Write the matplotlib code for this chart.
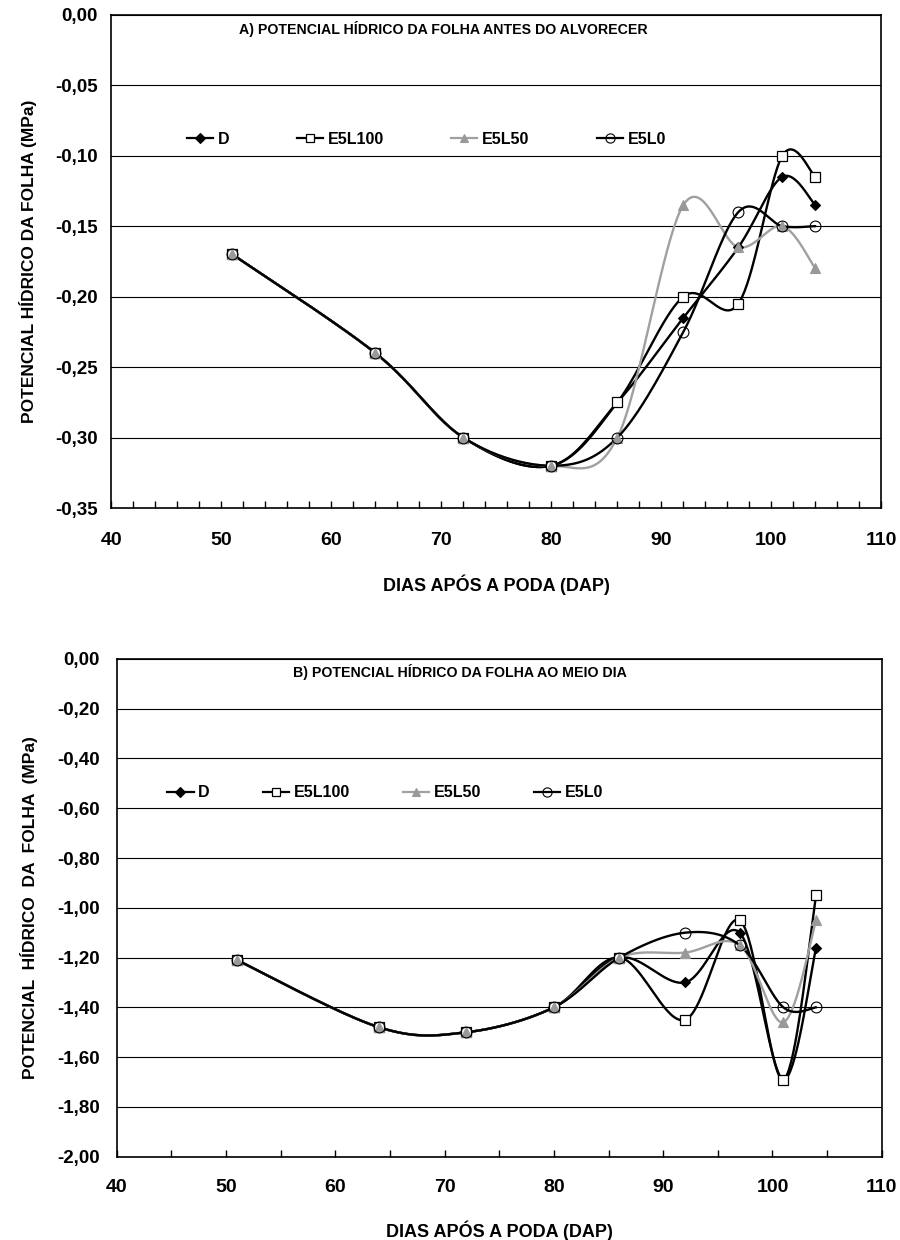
import numpy as np
import matplotlib
matplotlib.use("Agg")
import matplotlib.pyplot as plt
from matplotlib.lines import Line2D
from matplotlib.ticker import FixedLocator, MultipleLocator

plt.rcParams['font.family'] = ['Liberation Sans', 'DejaVu Sans']
plt.rcParams['font.weight'] = 'bold'

# ---------------- data ----------------
dap = [51, 64, 72, 80, 86, 92, 97, 101, 104]
series_names = ["D", "E5L100", "E5L50", "E5L0"]

# A) pre-dawn leaf water potential (MPa)
a_D      = [-0.17, -0.24, -0.30, -0.32, -0.275, -0.215, -0.165, -0.115, -0.135]
a_E5L100 = [-0.17, -0.24, -0.30, -0.32, -0.275, -0.200, -0.205, -0.100, -0.115]
a_E5L50  = [-0.17, -0.24, -0.30, -0.32, -0.300, -0.135, -0.165, -0.150, -0.180]
a_E5L0   = [-0.17, -0.24, -0.30, -0.32, -0.300, -0.225, -0.140, -0.150, -0.150]

# B) midday leaf water potential (MPa)
b_D      = [-1.21, -1.48, -1.50, -1.40, -1.20, -1.30, -1.10, -1.69, -1.16]
b_E5L100 = [-1.21, -1.48, -1.50, -1.40, -1.20, -1.45, -1.05, -1.69, -0.95]
b_E5L50  = [-1.21, -1.48, -1.50, -1.40, -1.20, -1.18, -1.15, -1.46, -1.05]
b_E5L0   = [-1.21, -1.48, -1.50, -1.40, -1.20, -1.10, -1.15, -1.40, -1.40]

x_ticks = [40, 50, 60, 70, 80, 90, 100, 110]
x_tick_labels = ["40", "50", "60", "70", "80", "90", "100", "110"]
a_y_ticks = [0.0, -0.05, -0.10, -0.15, -0.20, -0.25, -0.30, -0.35]
a_y_tick_labels = ["0,00", "-0,05", "-0,10", "-0,15", "-0,20", "-0,25", "-0,30", "-0,35"]
b_y_ticks = [0.0, -0.2, -0.4, -0.6, -0.8, -1.0, -1.2, -1.4, -1.6, -1.8, -2.0]
b_y_tick_labels = ["0,00", "-0,20", "-0,40", "-0,60", "-0,80", "-1,00", "-1,20",
                   "-1,40", "-1,60", "-1,80", "-2,00"]

title_a = "A) POTENCIAL HÍDRICO DA FOLHA ANTES DO ALVORECER"
title_b = "B) POTENCIAL HÍDRICO DA FOLHA AO MEIO DIA"
xlabel = "DIAS APÓS A PODA (DAP)"
ylabel_a = "POTENCIAL HÍDRICO DA FOLHA (MPa)"
ylabel_b = "POTENCIAL  HÍDRICO  DA  FOLHA  (MPa)"

GRAY = "#a0a0a0"
styles = {
    "D":      dict(color="black", marker="D", ms=5.5, mfc="black", mec="black", mew=0.8),
    "E5L100": dict(color="black", marker="s", ms=7.5, mfc="white", mec="black", mew=0.9),
    "E5L50":  dict(color=GRAY, marker="^", ms=7.5, mfc="#999999", mec="#999999", mew=0.8),
    "E5L0":   dict(color="black", marker="o", ms=7.8, mfc="none", mec="black", mew=0.8),
}


def smooth(xs, ys, n=40):
    """Excel-style smoothed line: cubic Bezier with Catmull-Rom control points."""
    P = np.column_stack([xs, ys]).astype(float)
    out = []
    m = len(P)
    t = np.linspace(0, 1, n)[:, None]
    for i in range(m - 1):
        p0 = P[i - 1] if i > 0 else P[i]
        p1 = P[i]
        p2 = P[i + 1]
        p3 = P[i + 2] if i + 2 < m else P[i + 1]
        c1 = p1 + (p2 - p0) / 6.0
        c2 = p2 - (p3 - p1) / 6.0
        seg = ((1 - t) ** 3) * p1 + 3 * ((1 - t) ** 2) * t * c1 + 3 * (1 - t) * t ** 2 * c2 + t ** 3 * p2
        out.append(seg if i == 0 else seg[1:])
    pts = np.vstack(out)
    return pts[:, 0], pts[:, 1]


fig = plt.figure(figsize=(9, 12.4), dpi=100)
axA = fig.add_axes([0.1237, 0.5903, 0.8556, 0.3978])
axB = fig.add_axes([0.1297, 0.0672, 0.8500, 0.4014])


def draw(ax, data, yticks, yticklabels, ylim, minor_x, title, title_xy, ylabel,
         leg_anchor, colspacing, ylab_x, xlab_y, ypad, xpad):
    for name, vals in zip(series_names, data):
        st = styles[name]
        sx, sy = smooth(dap, vals)
        ax.plot(sx, sy, color=st["color"], lw=1.7, solid_capstyle="round", zorder=3)
        ax.plot(dap, vals, ls="none", marker=st["marker"], ms=st["ms"], mfc=st["mfc"],
                mec=st["mec"], mew=st["mew"], zorder=4)
    ax.set_xlim(40, 110)
    ax.set_ylim(*ylim)
    ax.xaxis.set_major_locator(FixedLocator(x_ticks))
    ax.set_xticklabels(x_tick_labels)
    ax.xaxis.set_minor_locator(MultipleLocator(minor_x))
    ax.yaxis.set_major_locator(FixedLocator(yticks))
    ax.set_yticklabels(yticklabels)
    ax.tick_params(axis="x", which="both", direction="in", length=5, width=1,
                   labelsize=14, pad=xpad, top=False)
    ax.tick_params(axis="y", which="both", length=0, labelsize=13.5, pad=ypad)
    for lab in ax.get_xticklabels() + ax.get_yticklabels():
        lab.set_fontweight("bold")
    ax.grid(axis="y", color="black", lw=0.8, zorder=0)
    for sp in ax.spines.values():
        sp.set_color("black")
        sp.set_linewidth(1.2)
    ax.text(title_xy[0], title_xy[1], title, transform=ax.transAxes, ha="center",
            va="center", fontsize=10.2, fontweight="bold")
    ax.set_xlabel(xlabel, fontsize=13, fontweight="bold", va="top")
    ax.xaxis.set_label_coords(0.5, xlab_y)
    ax.set_ylabel(ylabel, fontsize=12.5, fontweight="bold", va="center")
    ax.yaxis.set_label_coords(ylab_x, 0.5)
    handles = []
    for name in series_names:
        st = styles[name]
        handles.append(Line2D([], [], color=st["color"], lw=1.6, marker=st["marker"],
                              ms=st["ms"] * 0.85, mfc=st["mfc"], mec=st["mec"], mew=st["mew"]))
    ax.legend(handles, series_names, loc="center left", bbox_to_anchor=leg_anchor,
              ncol=4, frameon=False, handlelength=1.65,
              handletextpad=0.3, columnspacing=colspacing, borderpad=0,
              borderaxespad=0, numpoints=1, prop=dict(weight="bold", size=11.5))


draw(axA, [a_D, a_E5L100, a_E5L50, a_E5L0], a_y_ticks, a_y_tick_labels, (-0.35, 0.0),
     2, title_a, (0.431, 0.971), ylabel_a, (0.098, 0.748), 4.2, -0.108, -0.134, 10, 17)
draw(axB, [b_D, b_E5L100, b_E5L50, b_E5L0], b_y_ticks, b_y_tick_labels, (-2.0, 0.0),
     5, title_b, (0.449, 0.974), ylabel_b, (0.066, 0.731), 3.3, -0.115, -0.129, 12, 16)

fig.savefig("out.png", dpi=100)
